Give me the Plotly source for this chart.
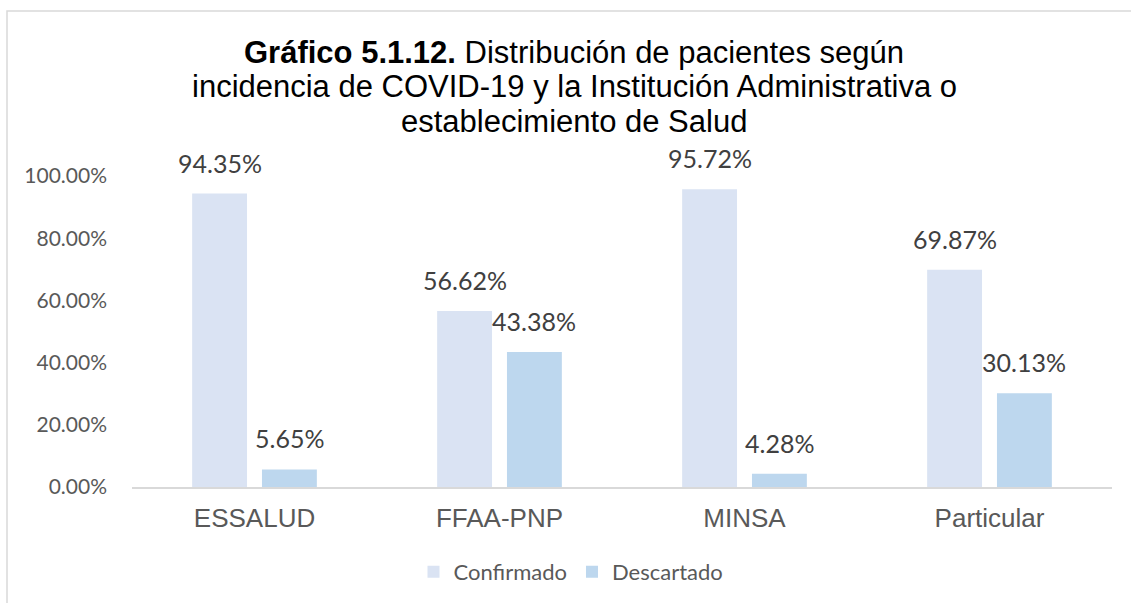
import plotly.graph_objects as go

categories = ["ESSALUD", "FFAA-PNP", "MINSA", "Particular"]
confirmado = [0.9435, 0.5662, 0.9572, 0.6987]
descartado = [0.0565, 0.4338, 0.0428, 0.3013]
series_names = ["Confirmado", "Descartado"]
series_colors = ["#DAE3F3", "#BDD7EE"]
y_ticks = [0, 0.2, 0.4, 0.6, 0.8, 1.0]
y_tick_labels = ["0.00%", "20.00%", "40.00%", "60.00%", "80.00%", "100.00%"]
title_lines = [
    "<b>Gráfico 5.1.12.</b> Distribución de pacientes según",
    "incidencia de COVID-19 y la Institución Administrativa o",
    "establecimiento de Salud",
]

W, H = 1131, 603
L, R, T, B = 132, 19, 176, 116
plot_w = W - L - R
plot_h = H - T - B
bargap = 0.43
slot_px = plot_w / len(categories) * (1 - bargap) / 2


def px_to_paper_y(py):
    return (H - B - py) / plot_h


def px_to_paper_x(px):
    return (px - L) / plot_w


fig = go.Figure()
for name, vals, col in zip(series_names, [confirmado, descartado], series_colors):
    fig.add_trace(go.Bar(
        x=categories, y=vals, name=name,
        marker=dict(color=col, line=dict(width=0)),
        hoverinfo="skip",
    ))

annotations = []
for i, vals in enumerate([confirmado, descartado]):
    for c, v in zip(categories, vals):
        annotations.append(dict(
            x=c, y=v, xref="x", yref="y",
            text=f"{v*100:.2f}%", showarrow=False,
            xshift=(i - 0.5) * slot_px, yshift=14,
            yanchor="bottom", xanchor="center",
            font=dict(family="Lato", size=25, color="#404040"),
        ))

title_centers = [52, 87, 121]
for line, cy in zip(title_lines, title_centers):
    annotations.append(dict(
        x=px_to_paper_x(574), y=px_to_paper_y(cy), xref="paper", yref="paper",
        text=line, showarrow=False, xanchor="center", yanchor="middle",
        font=dict(family="Liberation Sans, Arial", size=31, color="#000000"),
    ))

fig.update_layout(
    template="none",
    width=W, height=H,
    margin=dict(l=L, r=R, t=T, b=B, autoexpand=False),
    paper_bgcolor="white", plot_bgcolor="white",
    barmode="group", bargap=bargap, bargroupgap=0.214,
    xaxis=dict(
        automargin=False,
        showgrid=False, showline=True, linecolor="#D9D9D9", linewidth=1.5,
        ticks="", ticklabelstandoff=7, zeroline=False,
        tickfont=dict(family="Liberation Sans, Arial", size=26, color="#595959"),
    ),
    yaxis=dict(
        automargin=False,
        range=[0, 1.0], showgrid=False, showline=False, zeroline=False,
        tickvals=y_ticks, ticktext=y_tick_labels, ticks="",
        ticklabelstandoff=24,
        tickfont=dict(family="Lato", size=21, color="#595959"),
    ),
    showlegend=True,
    legend=dict(
        orientation="h", x=px_to_paper_x(571), xanchor="center",
        y=px_to_paper_y(572), yanchor="middle",
        font=dict(family="Lato", size=22, color="#595959"),
        itemwidth=30, traceorder="normal", bgcolor="rgba(0,0,0,0)",
    ),
    annotations=annotations,
    shapes=[dict(
        type="rect", xref="paper", yref="paper",
        x0=px_to_paper_x(7), x1=1.2,
        y0=-0.6, y1=px_to_paper_y(11),
        line=dict(color="#D9D9D9", width=1.5), fillcolor="rgba(0,0,0,0)",
        layer="below",
    )],
)

fig.write_html(
    "out.html",
    config={"displayModeBar": False},
    post_script="document.body.style.margin='0';document.body.style.overflow='hidden';",
)
